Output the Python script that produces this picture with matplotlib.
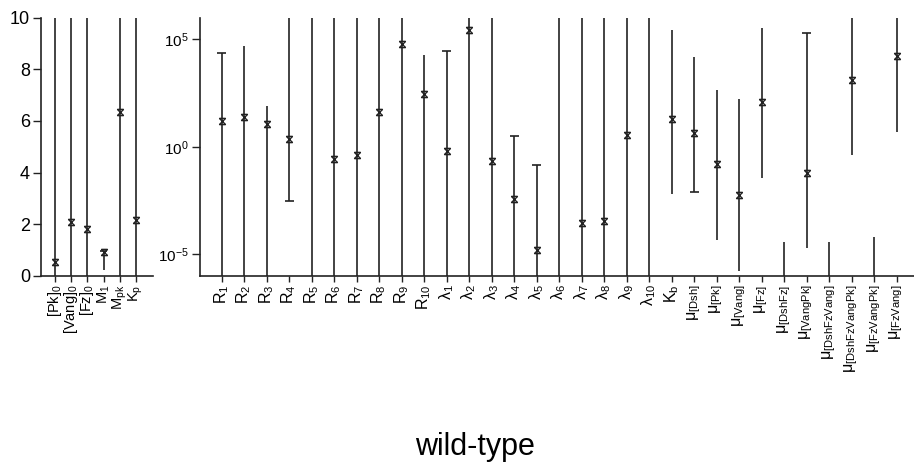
import numpy as np
import matplotlib
matplotlib.use("Agg")
import matplotlib.pyplot as plt
from matplotlib.path import Path

plt.rcParams['font.family'] = ['Liberation Sans', 'DejaVu Sans']
plt.rcParams['mathtext.fontset'] = 'custom'
plt.rcParams['mathtext.rm'] = 'Liberation Sans'
plt.rcParams['mathtext.it'] = 'Liberation Sans'

NAN = np.nan

# ---------- left panel (linear) ----------
left_labels = [r'$\mathrm{[Pk]_0}$', r'$\mathrm{[Vang]_0}$', r'$\mathrm{[Fz]_0}$',
               r'$\mathrm{M_1}$', r'$\mathrm{M_{pk}}$', r'$\mathrm{K_p}$']
left_value = [0.55, 2.07, 1.81, 0.92, 6.33, 2.17]
left_low = [-1.0, -1.0, -1.0, 0.23, -1.0, -1.0]
left_high = [20.0, 20.0, 20.0, 0.98, 20.0, 20.0]
left_cap_high = [False, False, False, True, False, False]
left_cap_low = [False, False, False, False, False, False]

# ---------- right panel (log10 values) ----------
right_labels = ([r'$\mathrm{R_{%d}}$' % i for i in range(1, 11)] +
                [r'$\mathrm{\lambda_{%d}}$' % i for i in range(1, 11)] +
                [r'$\mathrm{K_b}$'] +
                [r'$\mathrm{\mu_{[%s]}}$' % s for s in
                 ['Dsh', 'Pk', 'Vang', 'Fz', 'DshFz', 'VangPk', 'DshFzVang',
                  'DshFzVangPk', 'FzVangPk', 'FzVang']])
right_log_value = [1.18, 1.36, 1.06, 0.36, NAN, -0.56, -0.39, 1.60, 4.79, 2.45,
                   -0.19, 5.41, -0.68, -2.42, -4.78, NAN, -3.52, -3.44, 0.56, NAN,
                   1.30,
                   0.64, -0.81, -2.25, 2.08, NAN, -1.20, NAN, 3.12, NAN, 4.20]
right_log_low = [-8, -8, -8, -2.53, -8, -8, -8, -8, -8, -8,
                 -8, -8, -8, -8, -8, -8, -8, -8, -8, -8,
                 -2.20,
                 -2.12, -4.33, -5.75, -1.46, -8, -4.68, -8, -0.40, -8, 0.68]
right_log_high = [4.33, 4.67, 1.87, 8, 8, 8, 8, 8, 8, 4.28,
                  4.43, 8, 8, 0.48, -0.87, 8, 8, 8, 8, 8,
                  5.41,
                  4.15, 2.62, 2.23, 5.52, -4.43, 5.29, -4.43, 8, -4.17, 8]
right_cap_high = [True, False, False, False, False, False, False, False, False, False,
                  True, False, False, True, True, False, False, False, False, False,
                  False,
                  False, False, False, False, False, True, False, False, False, False]
right_cap_low = [False, False, False, True, False, False, False, False, False, False,
                 False, False, False, False, False, False, False, False, False, False,
                 False,
                 True, False, False, False, False, False, False, False, False, False]

title = 'wild-type'

# hourglass-x marker
verts = [(-1, 1), (1, 1), (-1, 1), (1, -1), (1, 1), (-1, -1), (-1, -1), (1, -1)]
codes = [Path.MOVETO, Path.LINETO, Path.MOVETO, Path.LINETO,
         Path.MOVETO, Path.LINETO, Path.MOVETO, Path.LINETO]
hg = Path(verts, codes)

LC = '#222222'
LW = 1.2

fig = plt.figure(figsize=(9.14, 4.65), dpi=100)
axL = fig.add_axes([41/914, 1-276/465, (153-41)/914, (276-17.5)/465])
axR = fig.add_axes([200/914, 1-276/465, (914-200)/914, (276-17.5)/465])


def draw(ax, x, val, lo, hi, chi, clo, capw):
    x = np.asarray(x, float)
    ax.vlines(x, lo, hi, color=LC, lw=LW, zorder=2)
    for xi, l, h, a, b in zip(x, lo, hi, chi, clo):
        if a:
            ax.hlines(h, xi - capw, xi + capw, color=LC, lw=LW)
        if b:
            ax.hlines(l, xi - capw, xi + capw, color=LC, lw=LW)
    ax.plot(x, val, linestyle='none', marker=hg, markersize=4.5, mew=1.0,
            mec=LC, mfc='none', zorder=3)


xl = np.arange(len(left_labels))
draw(axL, xl, left_value, left_low, left_high, left_cap_high, left_cap_low, 0.22)
axL.set_ylim(0, 10)
axL.set_xlim(-0.87, 6.05)
axL.set_yticks([0, 2, 4, 6, 8, 10])
axL.set_xticks(xl)
axL.set_xticklabels(left_labels, rotation=90, fontsize=10.5)
axL.tick_params(axis='y', labelsize=13, length=6, width=1, color=LC, pad=2)
axL.tick_params(axis='x', length=4, width=1, color=LC, pad=2)

xr = np.arange(len(right_labels))
rv = 10.0 ** np.asarray(right_log_value)
rl = 10.0 ** np.asarray(right_log_low, float)
rh = 10.0 ** np.asarray(right_log_high, float)
draw(axR, xr, rv, rl, rh, right_cap_high, right_cap_low, 0.2)
axR.set_yscale('log')
axR.set_ylim(1e-6, 1e6)
axR.set_xlim(-0.96, 30.77)
axR.set_yticks([1e-5, 1e0, 1e5])
axR.yaxis.set_minor_locator(matplotlib.ticker.NullLocator())
axR.set_xticks(xr)
axR.set_xticklabels(right_labels, rotation=90, fontsize=11.5)
axR.tick_params(axis='y', labelsize=11, length=6, width=1, color=LC, pad=2)
axR.tick_params(axis='x', length=4, width=1, color=LC, pad=2)

for ax in (axL, axR):
    ax.spines['top'].set_visible(False)
    ax.spines['right'].set_visible(False)
    for s in ('left', 'bottom'):
        ax.spines[s].set_color(LC)
        ax.spines[s].set_linewidth(1.2)

fig.text(475/914, 1-455/465, title, ha='center', va='baseline', fontsize=22)

fig.savefig('out.png', dpi=100)
